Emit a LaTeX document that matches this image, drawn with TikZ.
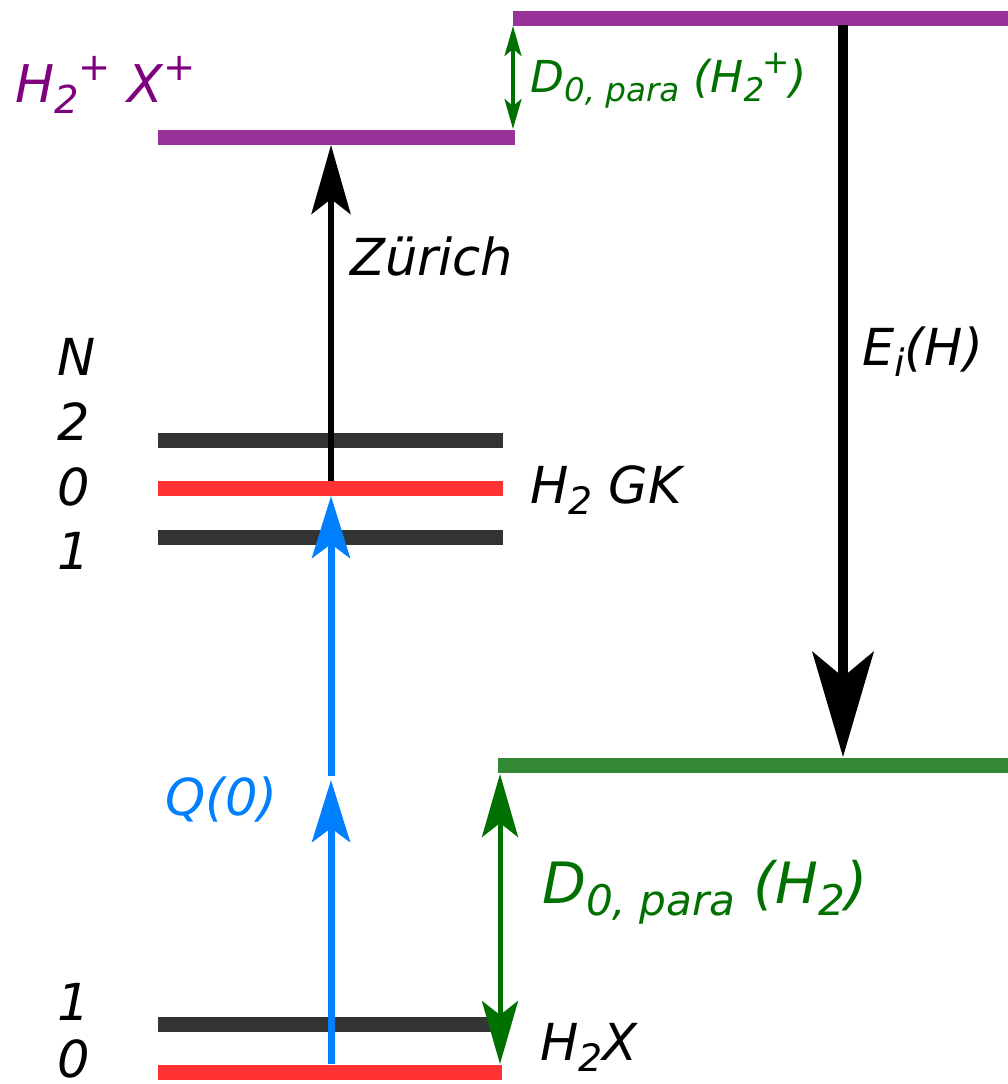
\documentclass[tikz,border=0pt]{standalone}
\usepackage{fontspec}
\setmainfont{DejaVu Sans}
\usepackage{graphicx}
\usetikzlibrary{arrows.meta}
\definecolor{lvpurple}{RGB}{153,51,153}
\definecolor{txpurple}{RGB}{128,0,128}
\definecolor{lvred}{RGB}{255,51,51}
\definecolor{lvdark}{RGB}{51,51,51}
\definecolor{arblue}{RGB}{0,128,255}
\definecolor{lvgreen}{RGB}{51,136,51}
\definecolor{argreen}{RGB}{0,112,0}
\newcommand{\lsub}[1]{\raisebox{-0.22em}{\scalebox{0.74}{#1}}}
\newcommand{\lsup}[1]{\raisebox{0.42em}{\scalebox{0.74}{#1}}}
\begin{document}
\begin{tikzpicture}[x=1pt,y=-1pt,
  level/.style={line width=15pt},
  lbl/.style={inner sep=0pt, anchor=base west, font=\fontsize{51}{60}\selectfont\itshape},
  zarrow/.style={line width=6pt, -{Stealth[length=69pt,width=39pt,inset=15pt]}},
  earrow/.style={line width=10pt, -{Stealth[length=105pt,width=61pt,inset=25pt]}},
  qarrow/.style={draw=arblue, line width=7pt, -{Stealth[length=62pt,width=38pt,inset=14pt]}},
  dbig/.style={draw=argreen, line width=5pt, {Stealth[length=63pt,width=36pt,inset=14pt]}-{Stealth[length=63pt,width=36pt,inset=14pt]}},
  dsmall/.style={draw=argreen, line width=3.5pt, {Stealth[length=30pt,width=17pt,inset=7pt]}-{Stealth[length=30pt,width=17pt,inset=7pt]}}
]
\useasboundingbox (0,0) rectangle (1008,1084);

% level end points
\coordinate (p2L) at (513,18);  \coordinate (p2R) at (1008,18);
\coordinate (p1L) at (158,137); \coordinate (p1R) at (515,137);
\coordinate (g2L) at (158,440); \coordinate (g2R) at (503,440);
\coordinate (g0L) at (158,488); \coordinate (g0R) at (503,488);
\coordinate (g1L) at (158,537); \coordinate (g1R) at (503,537);
\coordinate (hgL) at (498,765); \coordinate (hgR) at (1008,765);
\coordinate (x1L) at (158,1024); \coordinate (x1R) at (500,1024);
\coordinate (x0L) at (158,1072); \coordinate (x0R) at (502,1072);

% levels
\draw[level, lvpurple] (p2L) -- (p2R);
\draw[level, lvpurple] (p1L) -- (p1R);
\draw[level, lvdark] (g2L) -- (g2R);
\draw[level, lvred] (g0L) -- (g0R);
\draw[level, lvdark] (g1L) -- (g1R);
\draw[level, lvgreen] (hgL) -- (hgR);
\draw[level, lvdark] (x1L) -- (x1R);
\draw[level, lvred] (x0L) -- (x0R);

% arrow end points
\coordinate (zS) at (331,481); \coordinate (zE) at (331,145);
\coordinate (eS) at (843,25);  \coordinate (eE) at (843,757);
\coordinate (qS) at (331,1064); \coordinate (qM) at (331,780);
\coordinate (qN) at (331,776); \coordinate (qE) at (331,496);
\coordinate (dS) at (500,774); \coordinate (dE) at (500,1064);
\coordinate (sS) at (513,26); \coordinate (sE) at (513,129);

% arrows
\draw[zarrow] (zS) -- (zE);
\draw[earrow] (eS) -- (eE);
\draw[qarrow] (qS) -- (qM);
\draw[qarrow] (qN) -- (qE);
\draw[dbig] (dS) -- (dE);
\draw[dsmall] (sS) -- (sE);

% labels
\node[lbl, text=txpurple, font=\fontsize{52}{60}\selectfont\itshape] (lhp) at (15,102) {H\lsub{2}\lsup{+} X\lsup{+}};
\node[lbl, text=argreen, font=\fontsize{44}{52}\selectfont\itshape] (ldp) at (530,92) {D\lsub{0, para} (H\lsub{2}\kern-0.05em\lsup{+})};
\node[lbl] (lz) at (350,275) {Zürich};
\node[lbl] (le) at (862,365) {E\lsub{i}(H)};
\node[lbl] (ln) at (57,375) {N};
\node[lbl] (l2) at (57,440) {2};
\node[lbl] (l0) at (57,505) {0};
\node[lbl] (l1) at (57,569) {1};
\node[lbl] (lgk) at (530,503) {H\lsub{2} GK};
\node[lbl, text=arblue] (lq) at (165,815) {Q(0)};
\node[lbl, text=argreen, font=\fontsize{57}{66}\selectfont\itshape] (ldh) at (542,903) {D\lsub{0, para} (H\lsub{2})};
\node[lbl] (lx1) at (57,1020) {1};
\node[lbl] (lx0) at (57,1077) {0};
\node[lbl] (lhx) at (540,1060) {H\lsub{2}X};
\end{tikzpicture}
\end{document}
